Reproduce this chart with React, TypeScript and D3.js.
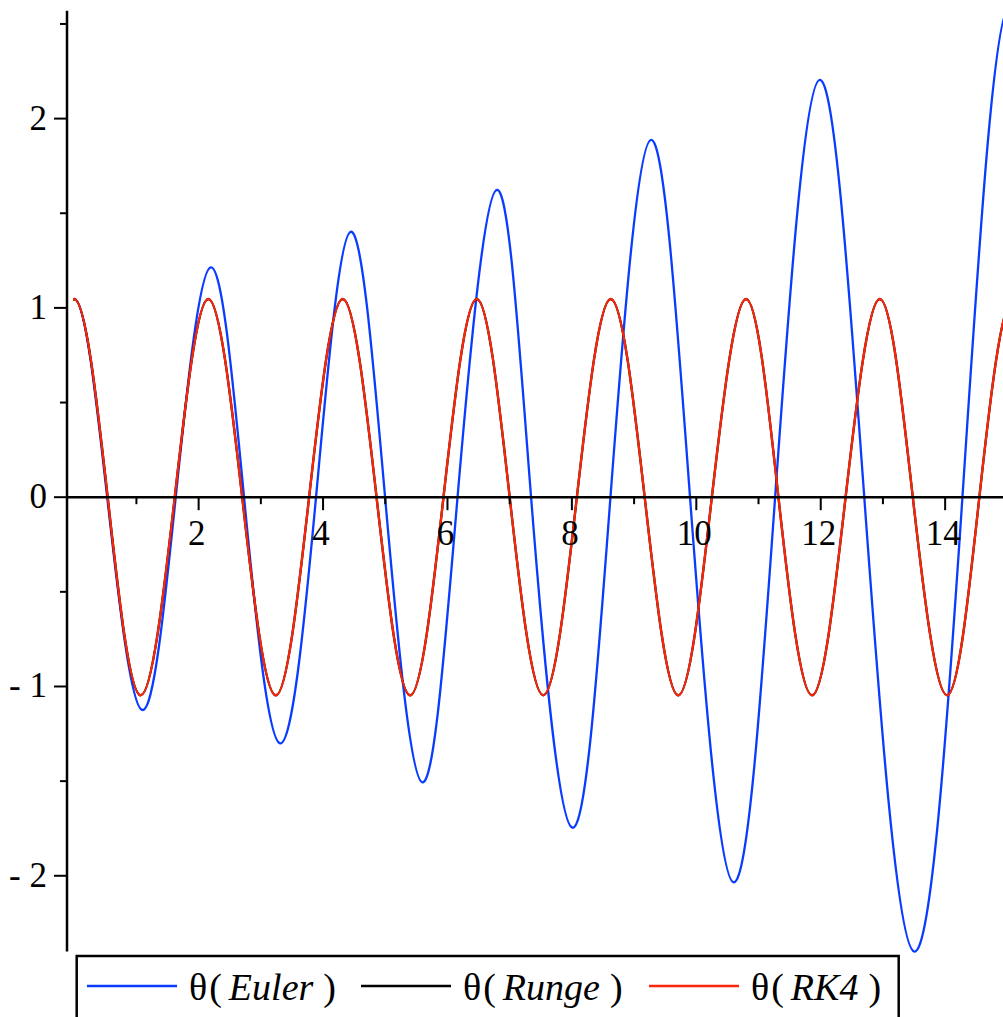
import { useEffect, useRef } from "react";
import * as d3 from "d3";

const WIDTH = 1003;
const HEIGHT = 1017;

// values at the extrema and zero crossings
// (one point either side of the visible range keeps the spline ends smooth; they are clipped away)
const eulerT = [-0.53, 0, 0.53, 1.095, 1.632, 2.195, 2.73, 3.309, 3.887, 4.445, 4.997, 5.596, 6.162, 6.793, 7.344, 8.008, 8.62, 9.269, 9.899, 10.597, 11.267, 11.979, 12.7, 13.5, 14.278, 15.04, 15.84];
const eulerTheta = [0, 1.047, 0, -1.124, 0, 1.214, 0, -1.3, 0, 1.402, 0, -1.506, 0, 1.623, 0, -1.746, 0, 1.887, 0, -2.034, 0, 2.204, 0, -2.4, 0, 2.6, 0];

const rk4T = [-0.538, 0, 0.538, 1.069, 1.616, 2.156, 2.7, 3.24, 3.776, 4.317, 4.86, 5.4, 5.936, 6.471, 7.0, 7.54, 8.08, 8.625, 9.17, 9.71, 10.25, 10.8, 11.32, 11.86, 12.4, 12.95, 13.48, 14.03, 14.55, 15.09, 15.63];
const rk4Theta = [0, 1.047, 0, -1.047, 0, 1.047, 0, -1.047, 0, 1.047, 0, -1.047, 0, 1.047, 0, -1.047, 0, 1.047, 0, -1.047, 0, 1.047, 0, -1.047, 0, 1.047, 0, -1.047, 0, 1.047, 0];

// Runge is drawn underneath RK4 and coincides with it in the picture
const rungeT = rk4T;
const rungeTheta = rk4Theta;

const xMajorTicks = [2, 4, 6, 8, 10, 12, 14];
const xMinorTicks = [1, 3, 5, 7, 9, 11, 13];
const yMajorTicks = [-2, -1, 0, 1, 2];
const yMinorTicks = [-1.5, -0.5, 0.5, 1.5, 2.5];

const series = [
  { name: "Euler", t: eulerT, theta: eulerTheta, color: "#0a3cff" },
  { name: "Runge", t: rungeT, theta: rungeTheta, color: "#000000" },
  { name: "RK4", t: rk4T, theta: rk4Theta, color: "#f8260a" },
];

const legendStarts = [87, 361, 649];

export default function App() {
  const svgRef = useRef<SVGSVGElement | null>(null);

  useEffect(() => {
    if (!svgRef.current) return;
    const svg = d3.select(svgRef.current);
    svg.selectAll("*").remove();

    const font = "'Liberation Serif', 'Times New Roman', serif";
    const x = d3.scaleLinear().domain([-0.116, 14.93]).range([67, WIDTH]);
    const y = d3.scaleLinear().domain([-2.4, 2.57]).range([951.5, 10.7]);
    const x0 = x.range()[0];
    const y0 = y(0);

    svg
      .append("defs")
      .append("clipPath")
      .attr("id", "plot-clip")
      .append("rect")
      .attr("x", x(0) - 1.2)
      .attr("y", 0)
      .attr("width", WIDTH - x(0) + 1.2)
      .attr("height", HEIGHT);

    // curves
    const line = d3
      .line<[number, number]>()
      .x((d) => x(d[0]))
      .y((d) => y(d[1]))
      .curve(d3.curveNatural);

    svg
      .append("g")
      .attr("clip-path", "url(#plot-clip)")
      .selectAll("path")
      .data(series)
      .join("path")
      .attr("d", (s) => line(s.t.map((t, i) => [t, s.theta[i]] as [number, number])))
      .attr("fill", "none")
      .attr("stroke", (s) => s.color)
      .attr("stroke-width", 2.3);

    // axes
    const axes = svg.append("g").attr("stroke", "#000");
    axes
      .append("line")
      .attr("x1", x0)
      .attr("x2", WIDTH)
      .attr("y1", y0)
      .attr("y2", y0)
      .attr("stroke-width", 2.5);
    axes
      .append("line")
      .attr("x1", x0)
      .attr("x2", x0)
      .attr("y1", y.range()[1])
      .attr("y2", y.range()[0])
      .attr("stroke-width", 2.5);

    axes
      .selectAll("line.xt")
      .data([...xMajorTicks.map((v) => ({ v, len: 13 })), ...xMinorTicks.map((v) => ({ v, len: 7 }))])
      .join("line")
      .attr("class", "xt")
      .attr("x1", (d) => x(d.v))
      .attr("x2", (d) => x(d.v))
      .attr("y1", y0)
      .attr("y2", (d) => y0 + d.len)
      .attr("stroke-width", 2);

    axes
      .selectAll("line.yt")
      .data([...yMajorTicks.map((v) => ({ v, len: 13 })), ...yMinorTicks.map((v) => ({ v, len: 7 }))])
      .join("line")
      .attr("class", "yt")
      .attr("x1", x0)
      .attr("x2", (d) => x0 - d.len)
      .attr("y1", (d) => y(d.v))
      .attr("y2", (d) => y(d.v))
      .attr("stroke-width", 2);

    svg
      .append("g")
      .selectAll("text")
      .data(xMajorTicks)
      .join("text")
      .attr("x", (v) => x(v) - 2)
      .attr("y", y0 + 48)
      .attr("text-anchor", "middle")
      .attr("font-family", font)
      .attr("font-size", 35)
      .text((v) => String(v));

    svg
      .append("g")
      .selectAll("text")
      .data(yMajorTicks)
      .join("text")
      .attr("x", 47)
      .attr("y", (v) => y(v) + 11)
      .attr("text-anchor", "end")
      .attr("font-family", font)
      .attr("font-size", 35)
      .text((v) => (v < 0 ? `- ${Math.abs(v)}` : String(v)));

    // legend
    const legend = svg.append("g");
    legend
      .append("rect")
      .attr("x", 76.7)
      .attr("y", 956)
      .attr("width", 822)
      .attr("height", 90)
      .attr("fill", "#fff")
      .attr("stroke", "#000")
      .attr("stroke-width", 2.5);

    series.forEach((s, i) => {
      const sx = legendStarts[i];
      legend
        .append("line")
        .attr("x1", sx)
        .attr("x2", sx + 90)
        .attr("y1", 986)
        .attr("y2", 986)
        .attr("stroke", s.color)
        .attr("stroke-width", 2.3);
      const text = legend
        .append("text")
        .attr("x", sx + 102)
        .attr("y", 1000)
        .attr("font-family", font)
        .attr("font-size", 38);
      text.append("tspan").text("θ");
      text.append("tspan").attr("dx", 2).text("(");
      text.append("tspan").attr("dx", 7).attr("font-style", "italic").text(s.name);
      text.append("tspan").attr("dx", 10).text(")");
    });
  }, []);

  return (
    <svg
      ref={svgRef}
      width={WIDTH}
      height={HEIGHT}
      style={{ position: "absolute", left: 0, top: 0, background: "#fff" }}
    />
  );
}
